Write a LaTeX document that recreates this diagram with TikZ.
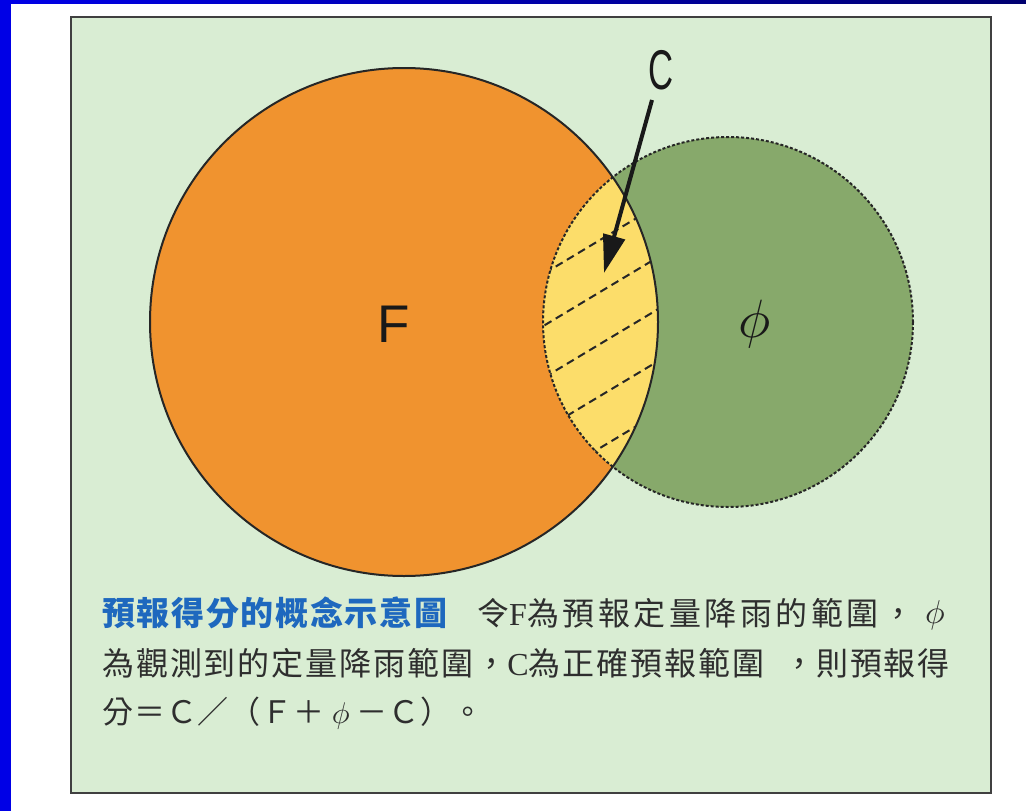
\documentclass[tikz,border=0pt]{standalone}
\usepackage{fontspec}
\usetikzlibrary{arrows.meta}
\newfontfamily\cjk{Noto Sans CJK TC}
\newfontfamily\lsans{Liberation Sans}
\newfontfamily\lserif{Liberation Serif}
\definecolor{bgframe}{HTML}{D9EDD3}
\definecolor{orangeF}{HTML}{F0932F}
\definecolor{greenP}{HTML}{87A96B}
\definecolor{yellowC}{HTML}{FCDD6A}
\definecolor{titleblue}{HTML}{1E68BE}
\definecolor{bodygrey}{HTML}{2E2E2E}
\definecolor{barblue}{HTML}{0000E6}
\definecolor{barnavy}{HTML}{000070}
\newcommand{\phisym}[1]{\scalebox{#1}{\fontsize{10}{12}\selectfont$\phi$}}
\tikzset{
  framebox/.style={draw=black!75, line width=2.5pt, fill=bgframe},
  circF/.style={draw=black!85, line width=2pt},
  circP/.style={draw=black!85, line width=2pt, dash pattern=on 3pt off 2pt},
  hatch/.style={draw=black!85, line width=2pt, dash pattern=on 8pt off 5pt},
  bigsans/.style={font=\lsans\fontsize{53}{60}\selectfont, text=black!90, inner sep=0pt},
  captxt/.style={text=bodygrey, inner sep=0pt, anchor=west},
  pointer/.style={line width=4pt, draw=black!90, -{Triangle[length=38pt,width=22pt]}}
}
\begin{document}
\begin{tikzpicture}[x=1pt,y=-1pt]
\useasboundingbox (0,0) rectangle (1026,811);
\fill[white] (0,0) rectangle (1026,811);
% blue bars
\fill[barblue] (0,0) rectangle (11,811);
\shade[left color=barblue, right color=barnavy] (11,0) rectangle (1026,3);
% frame
\path[framebox] (71,17) rectangle (991,793);
% circles
\coordinate (cF) at (404,322);
\coordinate (cP) at (728,322);
\fill[orangeF] (cF) circle[radius=254];
\fill[greenP] (cP) circle[radius=185];
\begin{scope}
  \clip (cF) circle[radius=254];
  \fill[yellowC] (cP) circle[radius=185];
  \clip (cP) circle[radius=185];
  \foreach \yy in {240,292,344,396,448}
    \draw[hatch] (500,\yy+60) -- (700,\yy-60);
\end{scope}
\draw[circF] (cF) circle[radius=254];
\draw[circP] (cP) circle[radius=185];
% labels
\node[bigsans] (F) at (394,324) {F};
\node[inner sep=0pt, text=black!90] (phi) at (755,324) {\phisym{5.4}};
\node[inner sep=0pt, text=black!90, font=\lsans\fontsize{56}{60}\selectfont, xscale=0.62, transform shape] (C) at (661,70) {C};
\coordinate (tip) at (604,273);
\draw[pointer] (652,100) -- (tip);
% caption
\node[captxt, text=titleblue, font=\cjk\bfseries\fontsize{33}{36}\selectfont\addfontfeature{LetterSpace=5}] (title) at (102,613) {預報得分的概念示意圖};
\node[captxt, font=\cjk\fontsize{32}{36}\selectfont\addfontfeature{LetterSpace=11}] (l1) at (477,613) {令{\lserif F}為預報定量降雨的範圍，};
\node[inner sep=0pt, text=bodygrey] (l1phi) at (935,615) {\phisym{3.3}};
\node[captxt, font=\cjk\fontsize{32}{36}\selectfont\addfontfeature{LetterSpace=6}] (l2a) at (102,663) {為觀測到的定量降雨範圍，{\lserif C}為正確預報範圍};
\node[captxt, font=\cjk\fontsize{32}{36}\selectfont\addfontfeature{LetterSpace=5}] (l2b) at (783,663) {，則預報得};
\node[captxt, font=\cjk\fontsize{31}{36}\selectfont\addfontfeature{LetterSpace=3}] (l3) at (102,713) {分＝Ｃ／（Ｆ＋\makebox[32pt]{\phisym{3.0}}－Ｃ）。};
\end{tikzpicture}
\end{document}
